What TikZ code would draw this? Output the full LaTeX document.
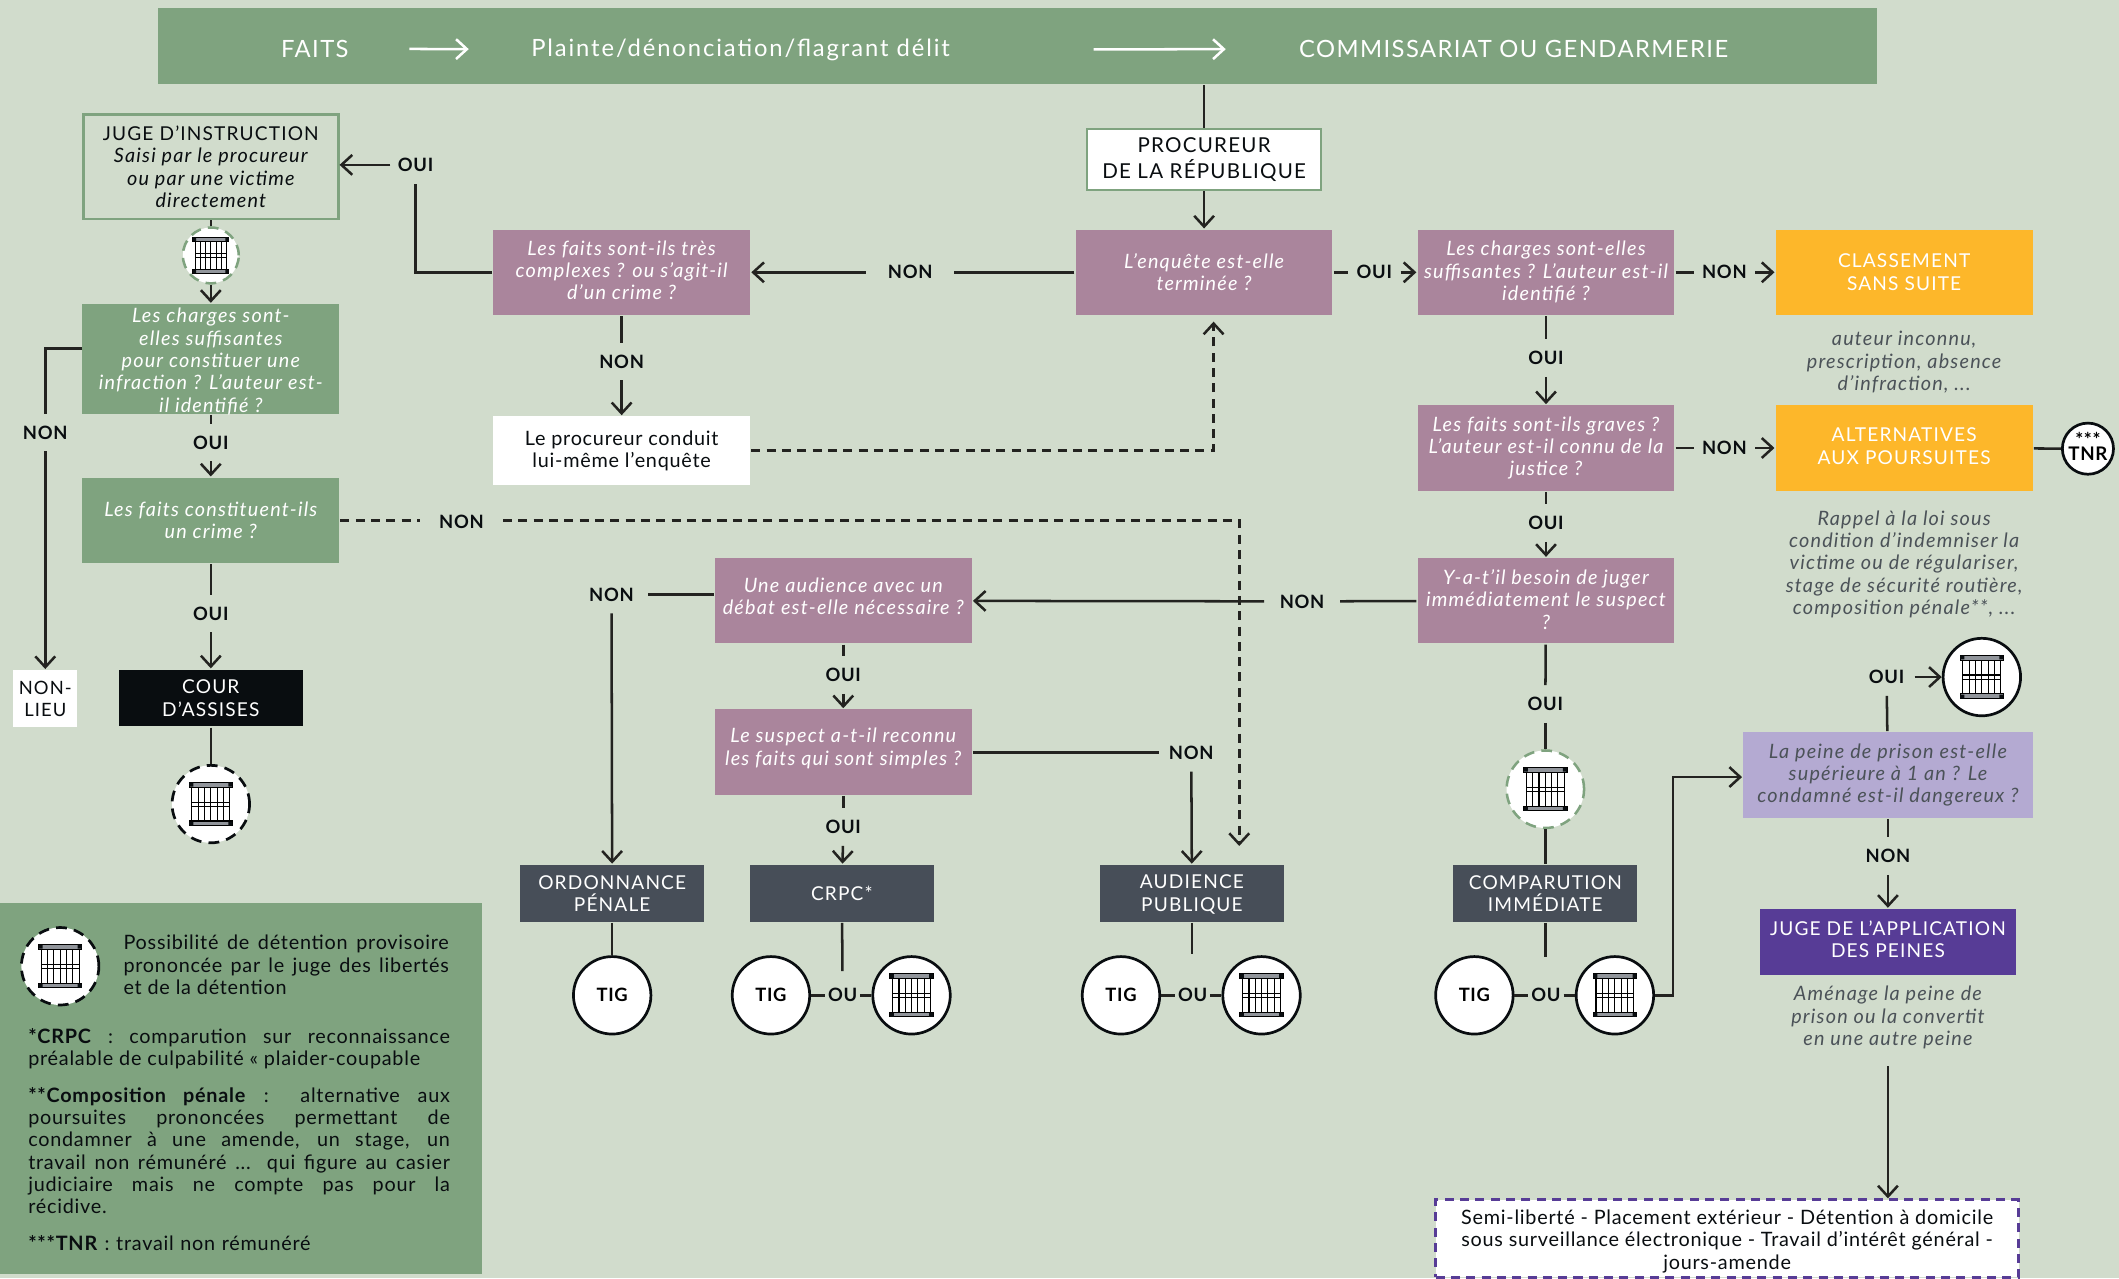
\documentclass[tikz,border=0pt]{standalone}
\usepackage{fontspec}
\setmainfont[LetterSpace=3.8,ItalicFeatures={LetterSpace=6}]{Lato}
\newfontfamily\capsfont[LetterSpace=6]{Lato}
\newfontfamily\barfont[LetterSpace=8]{Lato}
\usetikzlibrary{arrows.meta}

\definecolor{fondclair}{RGB}{209,220,204}
\definecolor{vert}{RGB}{127,163,127}
\definecolor{mauve}{RGB}{170,133,156}
\definecolor{jaune}{RGB}{253,183,42}
\definecolor{ardoise}{RGB}{71,78,88}
\definecolor{noirbox}{RGB}{9,13,16}
\definecolor{violet}{RGB}{87,60,150}
\definecolor{lavande}{RGB}{180,170,210}
\definecolor{encre}{RGB}{35,35,32}
\definecolor{note}{RGB}{75,82,88}

\tikzset{
  every picture/.style={line width=1.4pt},
  corps/.style={font=\fontsize{11}{12.4}\selectfont},
  question/.style={fill=mauve,text=white,minimum width=142.5pt,minimum height=47.25pt,inner sep=0pt,align=center,font=\fontsize{11}{12.4}\selectfont\itshape},
  questionv/.style={question,fill=vert},
  issue/.style={fill=ardoise,text=white,minimum width=102pt,minimum height=31.5pt,inner sep=0pt,align=center,font=\fontsize{10.6}{12.4}\capsfont},
  classe/.style={issue,fill=jaune,minimum width=142.5pt,minimum height=47.25pt},
  lab/.style={font=\fontsize{10.2}{12}\selectfont\bfseries,text=noirbox,inner xsep=3.5pt,inner ysep=6pt},
  oulab/.style={lab,inner xsep=1pt,inner ysep=9pt},
  rond/.style={circle,draw=noirbox,fill=white,minimum size=43pt,inner sep=0pt,line width=1.5pt,font=\fontsize{10.2}{12}\selectfont\bfseries},
  rondv/.style={rond,draw=vert,dash pattern=on 6pt off 4pt,line width=1.4pt},
  rondn/.style={rond,dash pattern=on 6pt off 4pt},
  noteb/.style={align=center,text=note,inner sep=0pt,font=\fontsize{11}{12.4}\selectfont\itshape},
  fil/.style={draw=encre,-{Straight Barb[length=6pt,width=11pt,line width=1.4pt]}},
  tiret/.style={fil,dash pattern=on 5pt off 3.5pt},
  jailicon/.pic={
    \draw[fill=white,line width=0.5pt] (-14,-13) rectangle (14,13);
    \draw[line width=0.6pt] (-14,-13) -- (-14,13) (-9.3,-13) -- (-9.3,13) (-4.7,-13) -- (-4.7,13) (0,-13) -- (0,13) (4.7,-13) -- (4.7,13) (9.3,-13) -- (9.3,13) (14,-13) -- (14,13) (-14,-1.5) -- (14,-1.5) (-14,1.5) -- (14,1.5);
    \draw[fill=ardoise!60,line width=0.6pt] (-16,-16) rectangle (16,-12.5);
    \draw[fill=ardoise!60,line width=0.6pt] (-16,12.5) rectangle (16,16);
    \fill[noirbox] (-16,-16) rectangle (-13,-13) (16,-16) rectangle (13,-13) (-16,16) rectangle (-13,13) (16,16) rectangle (13,13);
  }
}

\begin{document}
\begin{tikzpicture}[x=0.75pt,y=0.75pt,yscale=-1,xscale=1]
\useasboundingbox (0,0) rectangle (1568,946);
\fill[fondclair] (0,0) rectangle (1568,946);

% Bandeau
\node[fill=vert,minimum width=954pt,minimum height=42pt,inner sep=0pt] (bandeau) at (753,34) {};
\node[text=white,inner sep=0pt,font=\fontsize{13.2}{14}\capsfont] (faits) at (233,36) {FAITS};
\node[text=white,inner sep=0pt,font=\fontsize{13.2}{14}\barfont] (plainte) at (548,37) {Plainte/dénonciation/flagrant délit};
\node[text=white,inner sep=0pt,font=\fontsize{13.2}{14}\capsfont] (commissariat) at (1120,36) {COMMISSARIAT OU GENDARMERIE};

% Colonne gauche
\node[draw=vert,line width=1.4pt,minimum width=141.5pt,minimum height=58pt,inner sep=0pt,align=center,corps,text=noirbox] (juge) at (156,123.5) {\fontsize{10.6}{12.4}\capsfont JUGE D’INSTRUCTION\\\itshape Saisi par le procureur\\\itshape ou par une victime\\\itshape directement};
\node[rondv,minimum size=31pt] (jailjuge) at (156,189) {};
\node[questionv,minimum height=60.75pt,text height=59.6pt,text depth=0.4pt] (suffit) at (156,265.5) {Les charges sont-\\elles suffisantes\\pour constituer une\\infraction ? L’auteur est-\\il identifié ?};
\node[questionv] (crime) at (156,385) {Les faits constituent-ils\\un crime ?};
\node[issue,fill=noirbox] (assises) at (156,516.5) {COUR\\D’ASSISES};
\node[rondn] (jailassises) at (156,595) {};
\node[fill=white,minimum width=35.5pt,minimum height=31.5pt,inner sep=0pt,align=center,font=\fontsize{10.2}{12.4}\capsfont,text=noirbox] (nonlieu) at (33.5,517) {NON-\\LIEU};

% Colonne procureur
\node[draw=vert,fill=white,line width=1.4pt,minimum width=130pt,minimum height=34pt,inner sep=0pt,align=center,font=\fontsize{11.4}{14}\capsfont,text=noirbox] (procureur) at (891,118) {PROCUREUR\\DE LA RÉPUBLIQUE};
\node[question] (enquete) at (891,201.5) {L’enquête est-elle\\terminée ?};
\node[question,text depth=2.2pt] (complexe) at (460,201.5) {Les faits sont-ils très\\complexes ? ou s’agit-il\\d’un crime ?};
\node[fill=white,minimum width=142.5pt,minimum height=38pt,inner sep=0pt,align=center,corps,text=noirbox] (conduit) at (460,333.5) {Le procureur conduit\\lui-même l’enquête};

% Colonne droite
\node[question,text depth=1.5pt] (charges) at (1144,201.5) {Les charges sont-elles\\suffisantes ? L’auteur est-il\\identifié ?};
\node[question] (graves) at (1144,331.5) {Les faits sont-ils graves ?\\L’auteur est-il connu de la\\justice ?};
\node[question,text depth=1.5pt] (besoin) at (1144,444.5) {Y-a-t’il besoin de juger\\immédiatement le suspect\\?};
\node[classe] (classement) at (1409,201.5) {CLASSEMENT\\SANS SUITE};
\node[classe,text depth=2.2pt] (alternatives) at (1409,331.5) {ALTERNATIVES\\AUX POURSUITES};
\node[noteb] (noteclasse) at (1409,268) {auteur inconnu,\\prescription, absence\\d’infraction, ...};
\node[noteb] (notealter) at (1409,417.5) {Rappel à la loi sous\\condition d’indemniser la\\victime ou de régulariser,\\stage de sécurité routière,\\composition pénale**, ...};
\node[rond,minimum size=28pt,align=center,text depth=2.5pt,font=\fontsize{10.4}{9}\selectfont\bfseries] (tnr) at (1545,332) {***\\[-1pt]TNR};

% Colonne milieu
\node[question,text depth=5.2pt] (debat) at (624,444.5) {Une audience avec un\\débat est-elle nécessaire ?};
\node[question,text depth=6pt] (simple) at (624,556.5) {Le suspect a-t-il reconnu\\les faits qui sont simples ?};
\node[issue] (ordonnance) at (453,661) {ORDONNANCE\\PÉNALE};
\node[issue] (crpc) at (623,661) {CRPC*};
\node[issue] (audience) at (882,661) {\rule{0pt}{9.2pt}AUDIENCE\\PUBLIQUE};
\node[issue] (comparution) at (1143.5,661) {COMPARUTION\\IMMÉDIATE};
\node[rondv] (jailcomp) at (1143.5,584) {};

% TIG et cellules
\node[rond] (tigo) at (453,736.5) {TIG};
\node[rond] (tigc) at (570.5,736.5) {TIG};
\node[rond] (jailc) at (674.5,736.5) {};
\node[rond] (tiga) at (829.5,736.5) {TIG};
\node[rond] (jaila) at (933.5,736.5) {};
\node[rond] (tigi) at (1091,736.5) {TIG};
\node[rond] (jaili) at (1195,736.5) {};
\node[oulab] (ouc) at (623.5,736.5) {OU};
\node[oulab] (oua) at (882.5,736.5) {OU};
\node[oulab] (oui) at (1144,736.5) {OU};

% Peines
\node[fill=lavande,minimum width=160.5pt,minimum height=47.25pt,inner sep=0pt,align=center,text=note,font=\fontsize{11}{12.4}\selectfont\itshape] (peine) at (1397,573.5) {La peine de prison est-elle\\supérieure à 1 an ? Le\\condamné est-il dangereux ?};
\node[rond] (jailpeine) at (1466.5,501) {};
\node[issue,fill=violet,minimum width=142.5pt,minimum height=36.5pt,text depth=3pt] (jap) at (1397,697) {JUGE DE L’APPLICATION\\DES PEINES};
\node[noteb] (notejap) at (1397,753) {Aménage la peine de\\prison ou la convertit\\en une autre peine};
\node[draw=violet,fill=white,dash pattern=on 5pt off 3.5pt,line width=1.6pt,minimum width=323.5pt,minimum height=43pt,inner sep=0pt,align=center,corps,text=noirbox] (semi) at (1278,916.5) {\rule{0pt}{11pt}Semi-liberté - Placement extérieur - Détention à domicile\\sous surveillance électronique - Travail d’intérêt général -\\jours-amende};

% Labels
\node[lab] (ouijuge) at (307.5,122) {OUI};
\node[lab] (nonsuffit) at (33.5,320) {NON};
\node[lab] (ouisuffit) at (156,327.5) {OUI};
\node[lab] (ouicrime) at (156,454) {OUI};
\node[lab,inner xsep=10pt] (noncrime) at (341.5,386) {NON};
\node[lab,inner xsep=11.5pt] (nonenquete) at (673.5,201.5) {NON};
\node[lab] (noncomplexe) at (460,267.5) {NON};
\node[lab,inner xsep=4pt] (ouienquete) at (1017,201.5) {OUI};
\node[lab,inner xsep=4pt] (noncharges) at (1276,201.5) {NON};
\node[lab,inner xsep=4pt] (nongraves) at (1276,331.5) {NON};
\node[lab] (ouicharges) at (1144,265) {OUI};
\node[lab] (ouigraves) at (1144,387) {OUI};
\node[lab] (ouibesoin) at (1143.5,521) {OUI};
\node[lab,inner xsep=8pt] (nonbesoin) at (963.5,445) {NON};
\node[lab,inner xsep=7pt] (nondebat) at (452.5,440) {NON};
\node[lab] (ouidebat) at (624,499.5) {OUI};
\node[lab] (ouisimple) at (624,612) {OUI};
\node[lab,inner xsep=5pt] (nonsimple) at (881.5,557) {NON};
\node[lab,inner xsep=5pt] (ouipeine) at (1396,501) {OUI};
\node[lab] (nonpeine) at (1397,633.5) {NON};

%Coordinates
\coordinate (suffitgauche) at (61,258);
\coordinate (retourenquete) at (898,238);
\coordinate (fincrime) at (917,626);
\coordinate (finaudience) at (882,706);
\coordinate (fincomp) at (1143.5,708);
\coordinate (coude) at (1238,575);
\coordinate (finjap) at (1397,789);

% Connecteurs
\draw[fil,draw=white,shorten <=33pt,shorten >=34pt] (faits) -- (plainte);
\draw[fil,draw=white,shorten <=79pt,shorten >=40pt] (plainte) -- (commissariat);
\draw[draw=encre] (bandeau.south -| procureur) -- (procureur);
\draw[fil] (procureur) -- (enquete);
\draw[draw=encre] (enquete) -- (nonenquete);
\draw[fil] (nonenquete) -- (complexe);
\draw[draw=encre] (complexe) -| (ouijuge);
\draw[fil] (ouijuge) -- (juge.east |- ouijuge);
\draw[draw=encre] (juge) -- (jailjuge);
\draw[fil] (jailjuge) -- (suffit);
\draw[draw=encre] (suffit) -- (ouisuffit);
\draw[fil] (ouisuffit) -- (crime);
\draw[draw=encre] (suffitgauche) -| (nonsuffit);
\draw[fil] (nonsuffit) -- (nonlieu);
\draw[draw=encre] (crime) -- (ouicrime);
\draw[fil] (ouicrime) -- (assises);
\draw[draw=encre] (assises) -- (jailassises);
\draw[draw=encre,dash pattern=on 5pt off 3.5pt] (crime.east) -- (noncrime.west |- crime.east);
\draw[tiret] (noncrime.east |- crime.east) -| (fincrime);
\draw[draw=encre] (complexe) -- (noncomplexe);
\draw[fil] (noncomplexe) -- (conduit);
\draw[tiret] (conduit) -| (retourenquete);
\draw[draw=encre] (enquete) -- (ouienquete);
\draw[fil] (ouienquete) -- (charges);
\draw[draw=encre] (charges) -- (noncharges);
\draw[fil] (noncharges) -- (classement);
\draw[draw=encre] (graves) -- (nongraves);
\draw[fil] (nongraves) -- (alternatives);
\draw[draw=encre] (alternatives) -- (tnr);
\draw[draw=encre] (charges) -- (ouicharges);
\draw[fil] (ouicharges) -- (graves);
\draw[draw=encre] (graves) -- (ouigraves);
\draw[fil] (ouigraves) -- (besoin);
\draw[draw=encre] (besoin) -- (nonbesoin);
\draw[fil] (nonbesoin) -- (debat);
\draw[draw=encre] (debat.west |- nondebat) -- (nondebat);
\draw[fil] (nondebat) -- (ordonnance);
\draw[draw=encre] (debat) -- (ouidebat);
\draw[fil] (ouidebat) -- (simple);
\draw[draw=encre] (simple) -- (ouisimple);
\draw[fil] (ouisimple) -- (crpc);
\draw[draw=encre] (simple.east |- nonsimple) -- (nonsimple);
\draw[fil] (nonsimple) -- (audience);
\draw[draw=encre] (besoin) -- (ouibesoin);
\draw[draw=encre] (ouibesoin) -- (jailcomp);
\draw[draw=encre] (jailcomp) -- (comparution);
\draw[draw=encre] (ordonnance) -- (tigo);
\draw[draw=encre] (crpc) -- (ouc);
\draw[draw=encre] (audience) -- (finaudience);
\draw[draw=encre] (comparution) -- (fincomp);
\draw[draw=encre] (tigc) -- (ouc);
\draw[draw=encre] (ouc) -- (jailc);
\draw[draw=encre] (tiga) -- (oua);
\draw[draw=encre] (oua) -- (jaila);
\draw[draw=encre] (tigi) -- (oui);
\draw[draw=encre] (oui) -- (jaili);
\draw[fil] (jaili) -| (coude) -- (peine.west |- coude);
\draw[draw=encre] (peine) -- (ouipeine);
\draw[fil] (ouipeine) -- (jailpeine);
\draw[draw=encre] (peine) -- (nonpeine);
\draw[fil] (nonpeine) -- (jap);
\draw[fil] (finjap) -- (semi.north -| finjap);

% Cellules
\pic[scale=0.83] at (jailjuge) {jailicon};
\pic at (jailassises) {jailicon};
\pic at (jailcomp) {jailicon};
\pic at (jailc) {jailicon};
\pic at (jaila) {jailicon};
\pic at (jaili) {jailicon};
\pic at (jailpeine) {jailicon};

% Legende
\fill[vert] (0,668) rectangle (356.5,943);
\node[rondn,minimum size=43pt] (jaillegende) at (44.5,715) {};
\pic at (jaillegende) {jailicon};
\node[anchor=north west,inner sep=0pt,text width=180.5pt,align=justify,corps,text=noirbox] (texte1) at (90.5,691) {Possibilité de détention provisoire\linebreak prononcée par le juge des libertés\linebreak et de la détention};
\node[anchor=north west,inner sep=0pt,text width=234pt,align=justify,corps,text=noirbox] (texte2) at (20,760) {\textbf{*CRPC} : comparution sur reconnaissance\linebreak préalable de culpabilité « plaider-coupable};
\node[anchor=north west,inner sep=0pt,text width=234pt,align=justify,corps,text=noirbox] (texte3) at (20,803.5) {\textbf{**Composition pénale} : alternative aux\linebreak poursuites prononcées permettant de\linebreak condamner à une amende, un stage, un\linebreak travail non rémunéré ... qui figure au casier\linebreak judiciaire mais ne compte pas pour la\linebreak récidive.};
\node[anchor=north west,inner sep=0pt,text width=234pt,align=left,corps,text=noirbox] (texte4) at (20,913) {\textbf{***TNR} : travail non rémunéré};

\end{tikzpicture}
\end{document}
